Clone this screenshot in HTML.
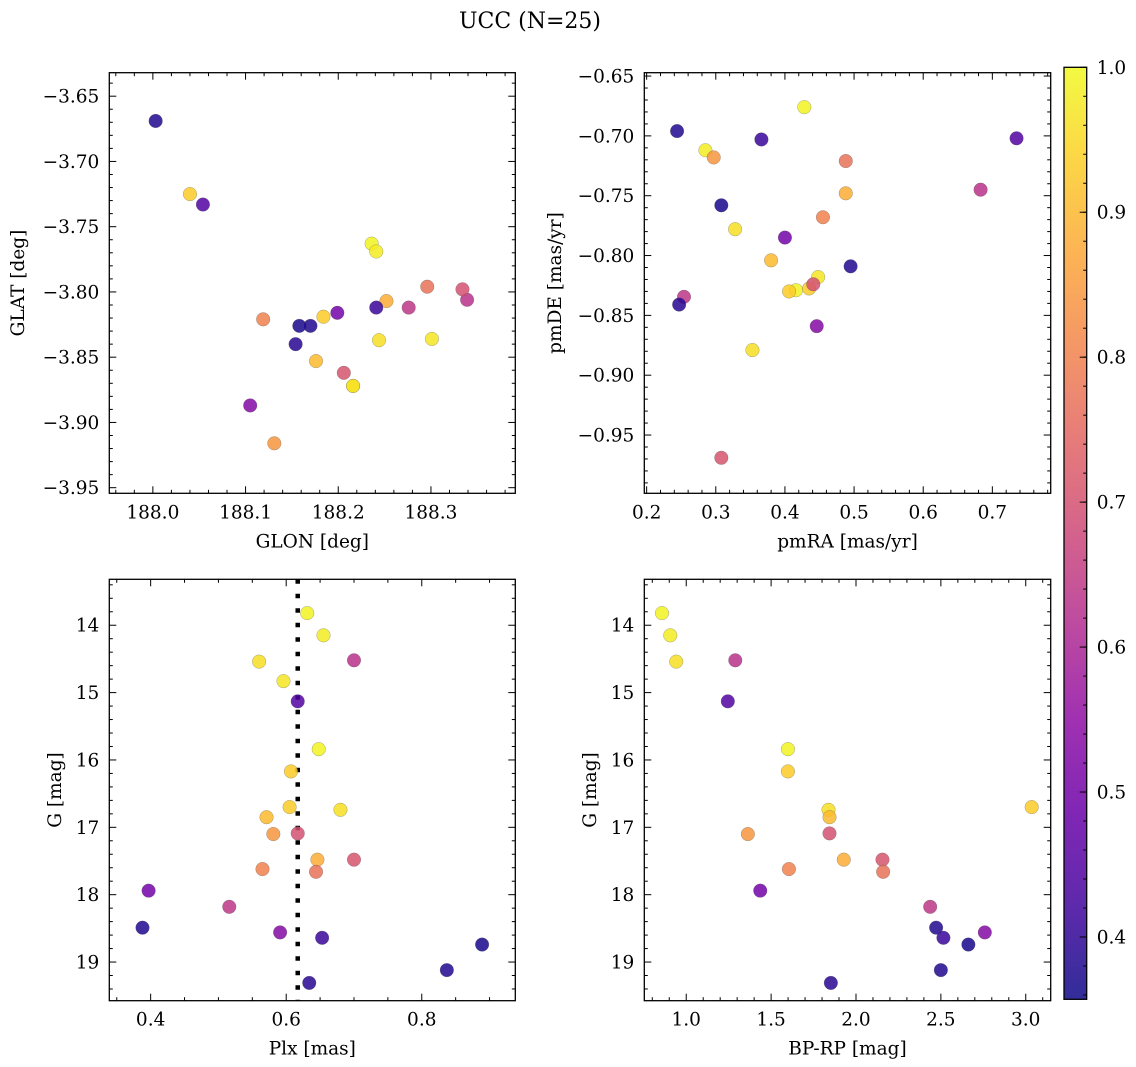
<!DOCTYPE html>
<html><head><meta charset="utf-8"><style>
html,body{margin:0;padding:0;background:#fff;}
svg{display:block;font-family:"DejaVu Serif","Liberation Serif",serif;}
</style></head><body>
<svg id="fig" width="1136" height="1067" viewBox="0 0 1136 1067" xmlns="http://www.w3.org/2000/svg">
<text x="530" y="28" text-anchor="middle" font-size="22">UCC (N=25)</text>
</svg>
<script>
// ---- data (one entry per star) ----
const glon = [188.236,188.241,188.244,188.339,188.301,188.054,188.216,188.184,188.040,188.216,188.176,188.131,188.334,188.252,188.206,188.119,188.296,188.199,188.276,188.003,188.105,188.241,188.158,188.170,188.154];
const glat = [-3.763,-3.769,-3.837,-3.806,-3.836,-3.733,-3.872,-3.819,-3.725,-3.872,-3.853,-3.916,-3.798,-3.807,-3.862,-3.821,-3.796,-3.816,-3.812,-3.669,-3.887,-3.812,-3.826,-3.826,-3.840];
const pmra = [0.428,0.285,0.328,0.683,0.448,0.735,0.416,0.406,0.435,0.353,0.380,0.297,0.441,0.488,0.308,0.455,0.488,0.400,0.254,0.244,0.446,0.366,0.308,0.495,0.247];
const pmde = [-0.676,-0.712,-0.778,-0.745,-0.818,-0.702,-0.829,-0.830,-0.8275,-0.879,-0.804,-0.718,-0.824,-0.748,-0.969,-0.768,-0.721,-0.785,-0.8345,-0.696,-0.859,-0.703,-0.758,-0.809,-0.841];
const plx  = [0.631,0.655,0.560,0.700,0.596,0.617,0.648,0.607,0.605,0.680,0.571,0.581,0.617,0.646,0.700,0.565,0.644,0.397,0.516,0.388,0.591,0.653,0.889,0.837,0.634];
const gmag = [13.82,14.15,14.54,14.52,14.83,15.13,15.84,16.17,16.70,16.74,16.85,17.10,17.09,17.48,17.48,17.62,17.66,17.94,18.18,18.49,18.56,18.64,18.74,19.12,19.31];
const bprp = [0.857,0.906,0.941,1.289,null,1.245,1.599,1.599,3.035,1.838,1.844,1.363,1.844,1.928,2.156,1.605,2.160,1.436,2.437,2.472,2.759,2.515,2.662,2.500,1.852];
const prob = [0.99,0.98,0.96,0.63,0.97,0.45,0.99,0.93,0.93,0.96,0.90,0.84,0.70,0.88,0.71,0.80,0.77,0.50,0.64,0.38,0.53,0.41,0.37,0.38,0.39];
const plxMedian = 0.617;
const cbTicks = [0.4,0.5,0.6,0.7,0.8,0.9,1.0];
const vmin = 0.357, vmax = 1.0;

const NS = "http://www.w3.org/2000/svg";
const svg = document.getElementById('fig');
const FS = 18.5;
function mk(tag, attrs, parent){
  const e = document.createElementNS(NS, tag);
  for (const k in attrs) e.setAttribute(k, attrs[k]);
  (parent||svg).appendChild(e);
  return e;
}
const plasma = ["#0d0887","#41049d","#6a00a8","#8f0da4","#b12a90","#cc4778","#e16462","#f2844b","#fca636","#fcce25","#f0f921"];
function hex(h){return [parseInt(h.substr(1,2),16),parseInt(h.substr(3,2),16),parseInt(h.substr(5,2),16)];}
function cmap(t){
  t = Math.max(0, Math.min(1, t));
  const f = t*10, i = Math.min(9, Math.floor(f)), r = f - i;
  const a = hex(plasma[i]), b = hex(plasma[i+1]);
  return "rgb(" + a.map((v,k)=>Math.round(v+(b[k]-v)*r)).join(",") + ")";
}
function fmt(v, d){ const s = Math.abs(v).toFixed(d); return (v < -1e-9 ? "\u2212" : "") + s; }

function panel(cfg){
  const {name, L, T, R, B, xmin, xmax, ymin, ymax, invertY, xMaj, xMin, yMaj, yMin, xd, yd, xlabel, ylabel, ylabX, xs, ys} = cfg;
  const g = mk('g', {});
  
  
  const sx = v => L + (v - xmin) / (xmax - xmin) * (R - L);
  const sy = v => invertY ? T + (v - ymin) / (ymax - ymin) * (B - T) : B - (v - ymin) / (ymax - ymin) * (B - T);
  const clipId = 'clip-' + name;
  const cp = mk('clipPath', {id: clipId}, g);
  mk('rect', {x: L, y: T, width: R - L, height: B - T}, cp);
  const tg = mk('g', {stroke: '#000', 'stroke-width': 1}, g);
  
  
  function range(a, b, s){ const out=[]; const st=Math.ceil(a/s-1e-6); for(let k=st; k*s<=b+1e-9; k++) out.push(k*s); return out; }
  range(xmin, xmax, xMin).forEach(v=>{
    const x = sx(v);
    const major = Math.abs(v/xMaj - Math.round(v/xMaj)) < 1e-4;
    const len = major ? 7 : 3.5;
    mk('line', {x1:x, x2:x, y1:B, y2:B-len}, tg);
    mk('line', {x1:x, x2:x, y1:T, y2:T+len}, tg);
    if (major){
      const t = mk('text', {x:x, y:B+25, 'text-anchor':'middle', 'font-size':FS, stroke:'none', fill:'#000'}, g);
      t.textContent = fmt(v, xd);
      
      
    }
  });
  range(ymin, ymax, yMin).forEach(v=>{
    const y = sy(v);
    const major = Math.abs(v/yMaj - Math.round(v/yMaj)) < 1e-4;
    const len = major ? 7 : 3.5;
    mk('line', {x1:L, x2:L+len, y1:y, y2:y}, tg);
    mk('line', {x1:R, x2:R-len, y1:y, y2:y}, tg);
    if (major){
      const t = mk('text', {x:L-10, y:y+6.5, 'text-anchor':'end', 'font-size':FS, fill:'#000'}, g);
      t.textContent = fmt(v, yd);
      
      
    }
  });
  const pts = mk('g', {'clip-path': 'url(#' + clipId + ')'}, g);
  
  
  if (cfg.vline !== undefined){
    const vl = mk('line', {x1:sx(cfg.vline), x2:sx(cfg.vline), y1:T, y2:B, stroke:'#000', 'stroke-width':4.5, 'stroke-dasharray':'4.5 10'}, pts);
    
    
  }
  for (let i = 0; i < xs.length; i++){
    if (xs[i] === null || ys[i] === null) continue;
    const c = mk('circle', {cx: sx(xs[i]), cy: sy(ys[i]), r: 6.8, fill: cmap((prob[i]-vmin)/(vmax-vmin)), 'fill-opacity': 0.85, stroke: '#555', 'stroke-opacity': 0.5, 'stroke-width': 0.5}, pts);
    
    
  }
  const fr = mk('rect', {x:L, y:T, width:R-L, height:B-T, fill:'none', stroke:'#000', 'stroke-width':1.3}, g);
  
  
  const xl = mk('text', {x:(L+R)/2, y:B+54, 'text-anchor':'middle', 'font-size':FS}, g);
  xl.textContent = xlabel;
  
  
  const yl = mk('text', {x:0, y:0, 'text-anchor':'middle', 'font-size':FS, transform:'translate(' + ylabX + ',' + ((T+B)/2) + ') rotate(-90)'}, g);
  yl.textContent = ylabel;
  
  
}

panel({name:'glon-glat-panel', L:109.3, T:72.7, R:515.3, B:493.3, xmin:187.953, xmax:188.391, ymin:-3.9543, ymax:-3.632, xMaj:0.1, xMin:0.02, yMaj:0.05, yMin:0.01, xd:1, yd:2, xlabel:'GLON [deg]', ylabel:'GLAT [deg]', ylabX:24, xs:glon, ys:glat});
panel({name:'pm-panel', L:644.3, T:72.7, R:1050.7, B:493.3, xmin:0.1966, xmax:0.7844, ymin:-0.9987, ymax:-0.6472, xMaj:0.1, xMin:0.02, yMaj:0.05, yMin:0.01, xd:1, yd:2, xlabel:'pmRA [mas/yr]', ylabel:'pmDE [mas/yr]', ylabX:561, xs:pmra, ys:pmde});
panel({name:'plx-g-panel', L:109.3, T:579.3, R:515.3, B:1000.7, xmin:0.339, xmax:0.938, ymin:13.318, ymax:19.574, invertY:true, xMaj:0.2, xMin:0.05, yMaj:1, yMin:0.2, xd:1, yd:0, xlabel:'Plx [mas]', ylabel:'G [mag]', ylabX:61, xs:plx, ys:gmag, vline:plxMedian});
panel({name:'cmd-panel', L:644.3, T:579.3, R:1050.7, B:1000.7, xmin:0.753, xmax:3.147, ymin:13.318, ymax:19.574, invertY:true, xMaj:0.5, xMin:0.1, yMaj:1, yMin:0.2, xd:1, yd:0, xlabel:'BP-RP [mag]', ylabel:'G [mag]', ylabX:596, xs:bprp, ys:gmag});

// ---- colorbar ----
const cbL = 1064, cbR = 1086.7, cbT = 67.3, cbB = 999.3;
const defs = mk('defs', {});
const grad = mk('linearGradient', {id:'cbgrad', x1:0, y1:1, x2:0, y2:0}, defs);
for (let k = 0; k <= 20; k++){
  const v = vmin + (vmax - vmin) * k / 20;
  mk('stop', {offset: (k/20), 'stop-color': cmap((v - vmin)/(vmax - vmin)), 'stop-opacity': 0.85}, grad);
}
const cb = mk('g', {});


mk('rect', {x:cbL, y:cbT, width:cbR-cbL, height:cbB-cbT, fill:'url(#cbgrad)'}, cb);
const cy = v => cbB - (v - vmin) / (vmax - vmin) * (cbB - cbT);
for (let k = Math.ceil(vmin/0.02 - 1e-6); k*0.02 <= vmax + 1e-9; k++){
  const v = k*0.02, y = cy(v);
  mk('line', {x1:cbR, x2:cbR-3.5, y1:y, y2:y, stroke:'#000', 'stroke-width':1}, cb);
}
cbTicks.forEach(v=>{
  const y = cy(v);
  mk('line', {x1:cbR, x2:cbR-7, y1:y, y2:y, stroke:'#000', 'stroke-width':1}, cb);
  const t = mk('text', {x:cbR+10, y:y+6.5, 'font-size':FS}, cb);
  t.textContent = v.toFixed(1);
  
  
});
mk('rect', {x:cbL, y:cbT, width:cbR-cbL, height:cbB-cbT, fill:'none', stroke:'#000', 'stroke-width':1.3}, cb);
</script>
</body></html>
